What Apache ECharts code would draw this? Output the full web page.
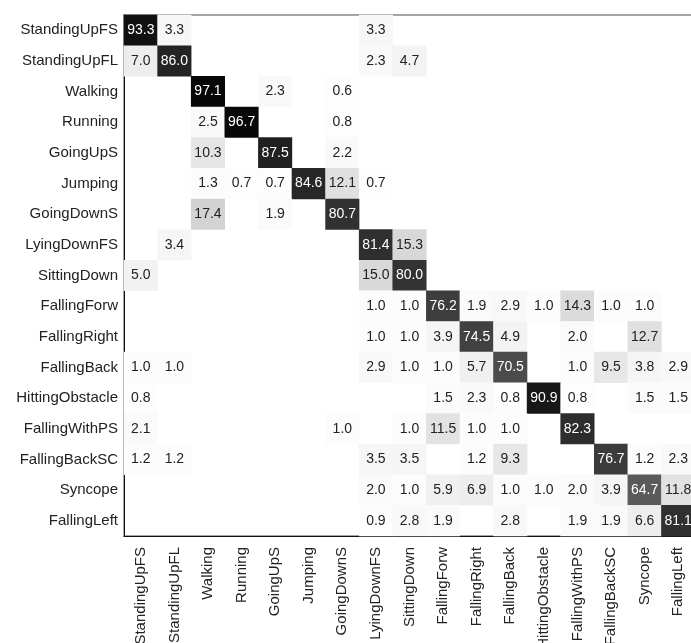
<!DOCTYPE html>
<html>
<head>
<meta charset="utf-8">
<script src="https://cdn.jsdelivr.net/npm/echarts@6/dist/echarts.min.js"></script>
<style>
  html, body { margin: 0; padding: 0; background: #fff; }
  #chart { width: 691px; height: 643px; }
</style>
</head>
<body>
<div id="chart"></div>
<script>
// class names, same order for rows (true) and columns (predicted)
const classes = [
  'StandingUpFS', 'StandingUpFL', 'Walking', 'Running', 'GoingUpS', 'Jumping',
  'GoingDownS', 'LyingDownFS', 'SittingDown', 'FallingForw', 'FallingRight',
  'FallingBack', 'HittingObstacle', 'FallingWithPS', 'FallingBackSC', 'Syncope', 'FallingLeft'
];

// one row per true class, 0 = empty cell
const rowStandingUpFS    = [93.3, 3.3, 0, 0, 0, 0, 0, 3.3, 0, 0, 0, 0, 0, 0, 0, 0, 0];
const rowStandingUpFL    = [7.0, 86.0, 0, 0, 0, 0, 0, 2.3, 4.7, 0, 0, 0, 0, 0, 0, 0, 0];
const rowWalking         = [0, 0, 97.1, 0, 2.3, 0, 0.6, 0, 0, 0, 0, 0, 0, 0, 0, 0, 0];
const rowRunning         = [0, 0, 2.5, 96.7, 0, 0, 0.8, 0, 0, 0, 0, 0, 0, 0, 0, 0, 0];
const rowGoingUpS        = [0, 0, 10.3, 0, 87.5, 0, 2.2, 0, 0, 0, 0, 0, 0, 0, 0, 0, 0];
const rowJumping         = [0, 0, 1.3, 0.7, 0.7, 84.6, 12.1, 0.7, 0, 0, 0, 0, 0, 0, 0, 0, 0];
const rowGoingDownS      = [0, 0, 17.4, 0, 1.9, 0, 80.7, 0, 0, 0, 0, 0, 0, 0, 0, 0, 0];
const rowLyingDownFS     = [0, 3.4, 0, 0, 0, 0, 0, 81.4, 15.3, 0, 0, 0, 0, 0, 0, 0, 0];
const rowSittingDown     = [5.0, 0, 0, 0, 0, 0, 0, 15.0, 80.0, 0, 0, 0, 0, 0, 0, 0, 0];
const rowFallingForw     = [0, 0, 0, 0, 0, 0, 0, 1.0, 1.0, 76.2, 1.9, 2.9, 1.0, 14.3, 1.0, 1.0, 0];
const rowFallingRight    = [0, 0, 0, 0, 0, 0, 0, 1.0, 1.0, 3.9, 74.5, 4.9, 0, 2.0, 0, 12.7, 0];
const rowFallingBack     = [1.0, 1.0, 0, 0, 0, 0, 0, 2.9, 1.0, 1.0, 5.7, 70.5, 0, 1.0, 9.5, 3.8, 2.9];
const rowHittingObstacle = [0.8, 0, 0, 0, 0, 0, 0, 0, 0, 1.5, 2.3, 0.8, 90.9, 0.8, 0, 1.5, 1.5];
const rowFallingWithPS   = [2.1, 0, 0, 0, 0, 0, 1.0, 0, 1.0, 11.5, 1.0, 1.0, 0, 82.3, 0, 0, 0];
const rowFallingBackSC   = [1.2, 1.2, 0, 0, 0, 0, 0, 3.5, 3.5, 0, 1.2, 9.3, 0, 0, 76.7, 1.2, 2.3];
const rowSyncope         = [0, 0, 0, 0, 0, 0, 0, 2.0, 1.0, 5.9, 6.9, 1.0, 1.0, 2.0, 3.9, 64.7, 11.8];
const rowFallingLeft     = [0, 0, 0, 0, 0, 0, 0, 0.9, 2.8, 1.9, 0, 2.8, 0, 1.9, 1.9, 6.6, 81.1];

const rows = [
  rowStandingUpFS, rowStandingUpFL, rowWalking, rowRunning, rowGoingUpS, rowJumping,
  rowGoingDownS, rowLyingDownFS, rowSittingDown, rowFallingForw, rowFallingRight,
  rowFallingBack, rowHittingObstacle, rowFallingWithPS, rowFallingBackSC, rowSyncope, rowFallingLeft
];

const font = "'Liberation Sans', Arial, sans-serif";

const data = [];
rows.forEach((row, r) => {
  row.forEach((v, c) => {
    if (!v) return;
    data.push({
      value: [c, r, v],
      label: { color: v > 50 ? '#fff' : '#222' }
    });
  });
});

const chart = echarts.init(document.getElementById('chart'));

chart.setOption({
  animation: false,
  grid: {
    left: 124,
    top: 15,
    width: 571,
    height: 521,
    outerBoundsMode: 'none',
    containLabel: false,
    show: true,
    borderColor: '#888',
    borderWidth: 1.5
  },
  xAxis: {
    type: 'category',
    data: classes,
    axisLine: { lineStyle: { color: '#111', width: 1 } },
    axisTick: { show: false },
    splitArea: { show: false },
    axisLabel: {
      rotate: 90,
      interval: 0,
      margin: 11,
      fontSize: 15,
      color: '#222',
      fontFamily: font
    }
  },
  yAxis: {
    type: 'category',
    data: classes,
    inverse: true,
    axisLine: { lineStyle: { color: '#111', width: 1 } },
    axisTick: { show: false },
    splitArea: { show: false },
    axisLabel: {
      interval: 0,
      margin: 6,
      fontSize: 15,
      color: '#222',
      fontFamily: font
    }
  },
  visualMap: {
    show: false,
    min: 0,
    max: 100,
    dimension: 2,
    inRange: { color: ['#ffffff', '#000000'] }
  },
  series: [{
    type: 'heatmap',
    data: data,
    label: {
      show: true,
      fontSize: 14,
      fontFamily: font,
      formatter: (p) => p.value[2].toFixed(1)
    },
    emphasis: { disabled: true }
  }]
});
</script>
</body>
</html>
